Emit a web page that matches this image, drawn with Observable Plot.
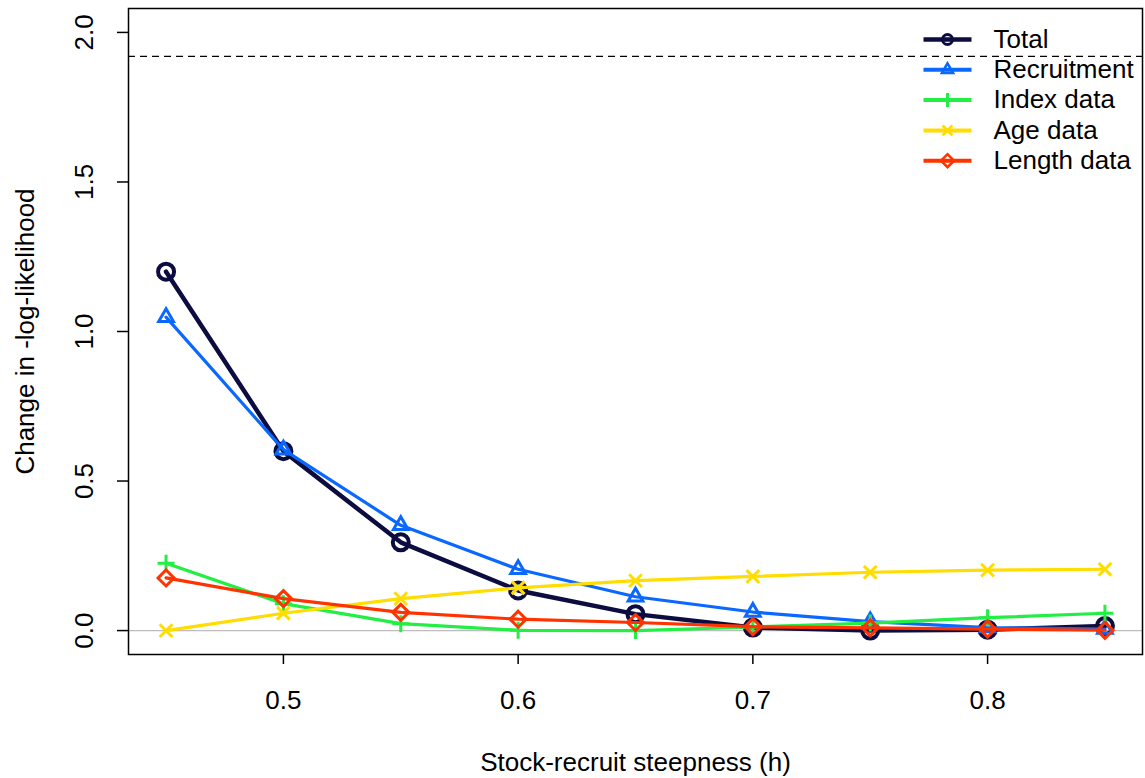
<!DOCTYPE html>
<html>
<head>
<meta charset="utf-8">
<script src="https://cdn.jsdelivr.net/npm/d3@7"></script>
<script src="https://cdn.jsdelivr.net/npm/@observablehq/plot@0.6"></script>
<style>
  html, body { margin: 0; padding: 0; background: #fff; }
  #chart svg { display: block; }
</style>
</head>
<body>
<div id="chart"></div>
<script>
// Steepness profile: change in negative log-likelihood by component
const steepness   = [0.45, 0.50, 0.55, 0.60, 0.65, 0.70, 0.75, 0.80, 0.85];
const total       = [1.200, 0.600, 0.295, 0.134, 0.055, 0.010, 0.000, 0.003, 0.015];
const recruitment = [1.048, 0.605, 0.352, 0.205, 0.113, 0.062, 0.030, 0.010, 0.005];
const indexData   = [0.225, 0.090, 0.023, 0.001, 0.000, 0.012, 0.025, 0.043, 0.058];
const ageData     = [0.000, 0.058, 0.107, 0.143, 0.167, 0.181, 0.195, 0.202, 0.205];
const lengthData  = [0.176, 0.107, 0.061, 0.038, 0.027, 0.013, 0.009, 0.005, 0.001];

const seriesNames = ["Total", "Recruitment", "Index data", "Age data", "Length data"];
const seriesValues = [total, recruitment, indexData, ageData, lengthData];

const xTicks = [0.5, 0.6, 0.7, 0.8];
const yTicks = [0.0, 0.5, 1.0, 1.5, 2.0];
const chiSquareCutoff = 1.92;

// Open point symbols, sized from the dot radius
const rOf = size => Math.sqrt(size / Math.PI);
const symCircle = { draw(ctx, size) { const r = rOf(size); ctx.moveTo(r, 0); ctx.arc(0, 0, r, 0, 2 * Math.PI); ctx.closePath(); } };
const symTriangle = { draw(ctx, size) { const r = rOf(size); ctx.moveTo(0, -r); ctx.lineTo(r * 0.866, r * 0.5); ctx.lineTo(-r * 0.866, r * 0.5); ctx.closePath(); } };
const symPlus = { draw(ctx, size) { const r = rOf(size); ctx.moveTo(-r, 0); ctx.lineTo(r, 0); ctx.moveTo(0, -r); ctx.lineTo(0, r); } };
const symTimes = { draw(ctx, size) { const r = rOf(size) * 0.75; ctx.moveTo(-r, -r); ctx.lineTo(r, r); ctx.moveTo(-r, r); ctx.lineTo(r, -r); } };
const symDiamond = { draw(ctx, size) { const r = rOf(size); ctx.moveTo(0, -r); ctx.lineTo(r, 0); ctx.lineTo(0, r); ctx.lineTo(-r, 0); ctx.closePath(); } };
const symSegment = { draw(ctx, size) { const r = rOf(size); ctx.moveTo(-r, 0); ctx.lineTo(r, 0); } };

const styles = [
  { color: "#0c0c40", symbol: symCircle,   r: 8,   line: 4.5, mark: 4,   legendR: 5,   legendMark: 3 },
  { color: "#0a68ff", symbol: symTriangle, r: 8.5, line: 3.2, mark: 3,   legendR: 6.5, legendMark: 2.5 },
  { color: "#22ee44", symbol: symPlus,     r: 8.5, line: 3.2, mark: 3,   legendR: 7,   legendMark: 3 },
  { color: "#ffdd00", symbol: symTimes,    r: 8.5, line: 3.2, mark: 3,   legendR: 6.5, legendMark: 3 },
  { color: "#ff3300", symbol: symDiamond,  r: 8,   line: 3.2, mark: 3,   legendR: 6.5, legendMark: 2.5 }
];

const fontSize = 26;

const tables = seriesValues.map((vals, i) =>
  steepness.map((h, j) => ({ h, v: vals[j], series: seriesNames[i] }))
);

const seriesMarks = tables.flatMap((rows, i) => [
  Plot.line(rows, { x: "h", y: "v", stroke: styles[i].color, strokeWidth: styles[i].line }),
  Plot.dot(rows, { x: "h", y: "v", symbol: styles[i].symbol, r: styles[i].r, stroke: styles[i].color, strokeWidth: styles[i].mark, fill: "none" })
]);

// Legend in the top-right corner of the panel
const legendX = 819, legendTextX = 865, legendTop = 31, legendStep = 30.3;
const legendMarks = seriesNames.flatMap((name, i) => [
  Plot.dot([name], { frameAnchor: "top-left", dx: legendX, dy: legendTop + i * legendStep, symbol: symSegment, r: 24, stroke: styles[i].color, strokeWidth: i === 0 ? 4.5 : 4 }),
  Plot.dot([name], { frameAnchor: "top-left", dx: legendX, dy: legendTop + i * legendStep, symbol: styles[i].symbol, r: styles[i].legendR, stroke: styles[i].color, strokeWidth: styles[i].legendMark, fill: "none" }),
  Plot.text([name], { frameAnchor: "top-left", dx: legendTextX, dy: legendTop + i * legendStep, text: d => d, textAnchor: "start", lineAnchor: "middle", fontSize, fill: "#000" })
]);

const chart = Plot.plot({
  width: 1145,
  height: 778,
  marginLeft: 128,
  marginRight: 3,
  marginTop: 8,
  marginBottom: 124,
  style: { fontFamily: "'Liberation Sans', Arial, sans-serif", background: "#fff", color: "#000" },
  x: { domain: [0.434, 0.866], axis: null },
  y: { domain: [-0.08, 2.08], axis: null },
  marks: [
    Plot.ruleY([0], { stroke: "#bdbdbd", strokeWidth: 1.2 }),
    Plot.ruleY([chiSquareCutoff], { stroke: "#000", strokeWidth: 1.3, strokeDasharray: "7,5" }),
    ...seriesMarks,
    ...legendMarks,
    Plot.frame({ stroke: "#000", strokeWidth: 1.5 }),
    Plot.axisX(xTicks, { tickSize: 10, strokeWidth: 1.5, text: null, label: null }),
    Plot.text(xTicks, { x: d => d, frameAnchor: "bottom", dy: 46, text: d3.format(".1f"), fontSize, textAnchor: "middle", lineAnchor: "middle", fill: "#000" }),
    Plot.axisY(yTicks, { tickSize: 11, strokeWidth: 1.5, text: null, label: null }),
    Plot.text(yTicks, { y: d => d, frameAnchor: "left", dx: -44, rotate: -90, text: d3.format(".1f"), fontSize, textAnchor: "middle", lineAnchor: "middle", fill: "#000" }),
    Plot.text(["Change in -log-likelihood"], { frameAnchor: "left", dx: -103, rotate: -90, text: d => d, fontSize, textAnchor: "middle", lineAnchor: "middle", fill: "#000" }),
    Plot.text(["Stock-recruit steepness (h)"], { frameAnchor: "bottom", dy: 108, text: d => d, fontSize, textAnchor: "middle", lineAnchor: "middle", fill: "#000" })
  ]
});

document.getElementById("chart").appendChild(chart);
</script>
</body>
</html>
